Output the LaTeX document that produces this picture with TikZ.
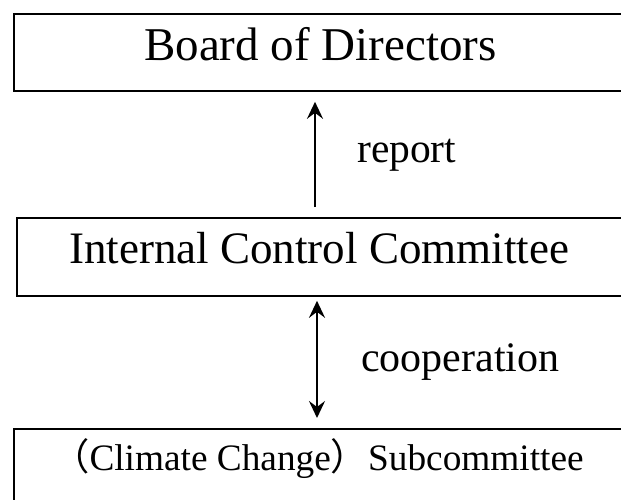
\documentclass[tikz,border=0pt]{standalone}
\usepackage{fontspec}
\setmainfont{Liberation Serif}
\newfontfamily\cjk{Noto Sans CJK JP}
\usetikzlibrary{arrows.meta}
\tikzset{
  box/.style={draw=black, line width=1.8pt, rectangle, inner sep=0pt, anchor=north west},
  lbl/.style={inner sep=0pt, anchor=base west, text=black},
  arr/.style={line width=2.4pt, arrows={-Stealth[length=17pt,width=16pt,inset=6pt]}},
  darr/.style={line width=2.4pt, arrows={Stealth[length=17pt,width=16pt,inset=6pt]-Stealth[length=17pt,width=16pt,inset=6pt]}}
}
\begin{document}
\begin{tikzpicture}[x=1pt,y=-1pt]
\clip (0,0) rectangle (621,499);
\fill[white] (0,0) rectangle (621,499);
% boxes
\node[box, minimum width=617pt, minimum height=77pt] (board) at (13,13) {};
\node[box, minimum width=615pt, minimum height=78pt] (icc) at (16,217) {};
\node[box, minimum width=617pt, minimum height=100pt] (sub) at (13,428) {};
% texts
\node[lbl] (tboard) at (144,60) {\fontsize{47}{47}\selectfont Board of Directors};
\node[lbl] (ticc) at (69,263) {\fontsize{45}{45}\selectfont Internal Control Committee};
\node[lbl] (tsub) at (52,470) {\fontsize{37.3}{37.3}\selectfont{\cjk （}Climate Change{\cjk ）}Subcommittee};
\node[lbl] (treport) at (357,162) {\fontsize{41.5}{41.5}\selectfont report};
\node[lbl] (tcoop) at (361,371) {\fontsize{42}{42}\selectfont cooperation};
% connectors
\coordinate (x1) at (315,0);
\coordinate (x2) at (317,0);
\draw[arr, shorten <=10pt, shorten >=10pt] (x1 |- icc.north) -- (x1 |- board.south);
\draw[darr, shorten <=4pt, shorten >=10pt] (x2 |- icc.south) -- (x2 |- sub.north);
\end{tikzpicture}
\end{document}
